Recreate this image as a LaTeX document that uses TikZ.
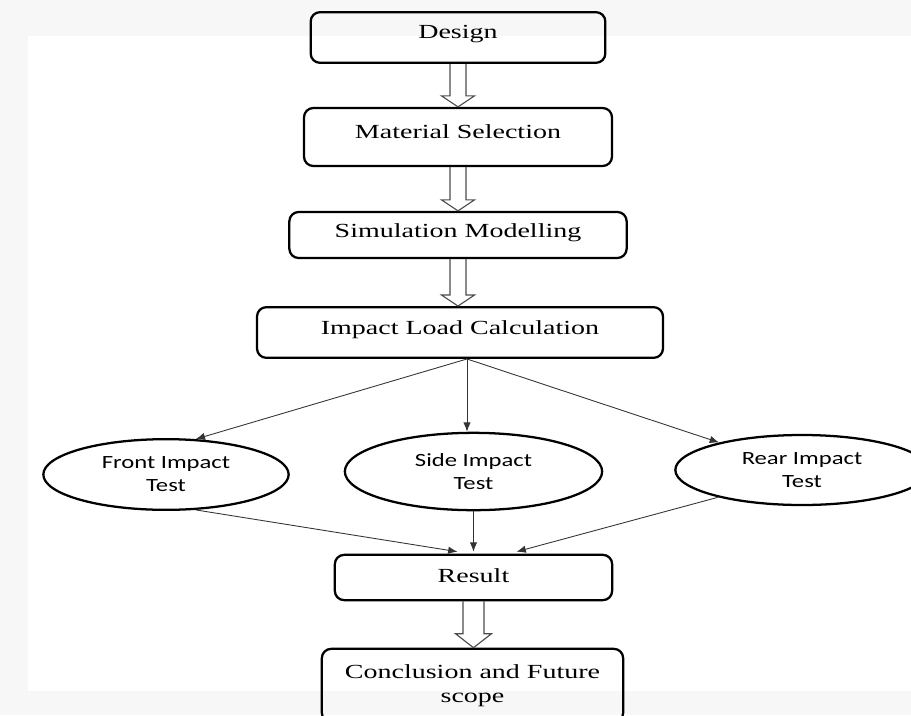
\documentclass[tikz,border=0pt]{standalone}
\usepackage{fontspec}
\usetikzlibrary{shapes.geometric,arrows.meta,calc}
\newfontfamily\boxfont{Liberation Serif}[FakeStretch=1.4]
\newfontfamily\ovalfont{Carlito}[FakeStretch=1.32]

\begin{document}
\begin{tikzpicture}[x=.75pt,y=-.75pt,>={Latex[length=7pt,width=5.5pt]}]
\tikzset{
  stage/.style={draw=black,line width=1.7pt,rounded corners=7pt,align=center,font=\boxfont\fontsize{15}{18}\selectfont,inner sep=2pt},
  test/.style={ellipse,draw=black,line width=1.7pt,align=center,font=\ovalfont\fontsize{14}{17.3}\selectfont,inner sep=0pt},
  link/.style={->,draw=black!80,line width=.65pt},
  hollow/.style n args={3}{draw=black!70,line width=.85pt,line join=miter,
    to path={($(\tikztostart)+(-#1,0)$) -- ($(\tikztotarget)+(-#1,-#3)$) -- ($(\tikztotarget)+(-#2,-#3)$) -- (\tikztotarget)
      -- ($(\tikztotarget)+(#2,-#3)$) -- ($(\tikztotarget)+(#1,-#3)$) -- ($(\tikztostart)+(#1,0)$)}}
}
% page background
\fill[black!3] (0,0) rectangle (911,715);
\fill[white] (28,36) rectangle (911,691);
\useasboundingbox (0,0) rectangle (911,715);

\node[stage,minimum width=221pt,minimum height=38pt,text depth=8pt] (design) at (458,37.5) {Design};
\node[stage,minimum width=231pt,minimum height=43.5pt,text depth=8pt] (material) at (458,137) {Material Selection};
\node[stage,minimum width=253pt,minimum height=34.5pt,text depth=6pt] (simul) at (458,235) {Simulation Modelling};
\node[stage,minimum width=304.5pt,minimum height=38pt,text depth=8pt] (impact) at (460,332.5) {Impact Load Calculation};
\node[test,minimum width=184pt,minimum height=53pt] (front) at (166,474.5) {Front Impact\\Test};
\node[test,minimum width=193pt,minimum height=58pt] (side) at (473.5,471.5) {Side Impact\\Test};
\node[test,minimum width=190pt,minimum height=52.5pt] (rear) at (802,470) {Rear Impact\\Test};
\node[stage,minimum width=208pt,minimum height=34pt,text depth=3pt] (result) at (473.5,577.5) {Result};
\node[stage,minimum width=226pt,minimum height=55pt] (concl) at (472.5,685.5) {Conclusion and Future\\scope};

% block arrows
\draw[hollow={8}{16.5}{11}] (design.south) to (material.north);
\draw[hollow={8}{16.5}{11}] (material.south) to (simul.north);
\draw[hollow={8}{16.5}{11}] (simul.south) to (simul.south |- impact.north);
\draw[hollow={10.5}{18}{14}] (result.south) to (result.south |- concl.north);

% fan out and in
\coordinate (fork) at ($(impact.south)+(7,0)$);
\draw[link] (fork) -- (front.50);
\draw[link] (fork) -- (fork |- side.north);
\draw[link] (fork) -- (rear);
\draw[link] (front.310) -- ($(result.north)+(-16,-2)$);
\draw[link] (side.south) -- ($(result.north)+(0,-2)$);
\draw[link] (rear.198) -- ($(result.north)+(43,-2)$);
\end{tikzpicture}
\end{document}
